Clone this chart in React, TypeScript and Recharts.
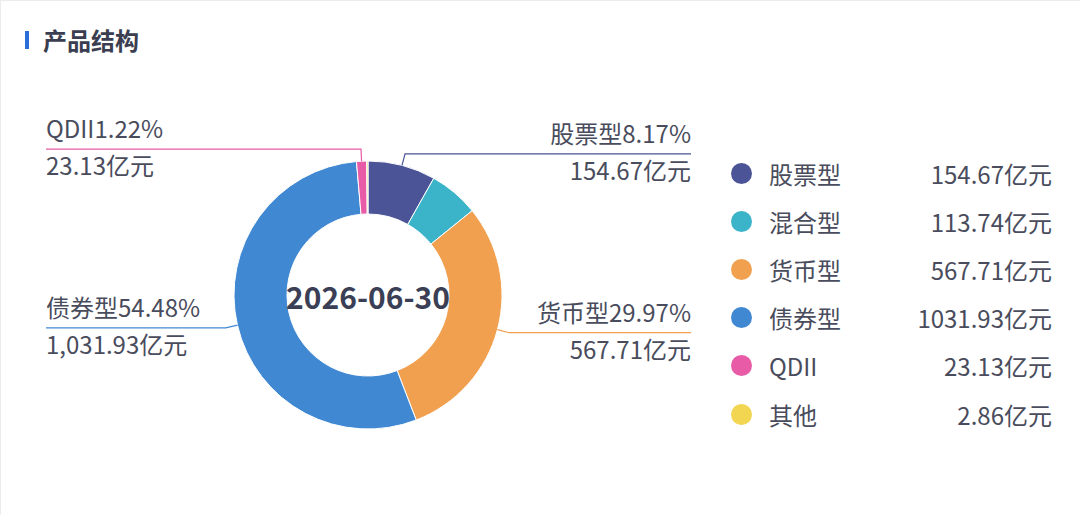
import { PieChart, Pie, Cell, Legend } from "recharts";

const NAMES = ["股票型", "混合型", "货币型", "债券型", "QDII", "其他"];
const AMOUNTS = [154.67, 113.74, 567.71, 1031.93, 23.13, 2.86];
const COLORS = ["#4a5496", "#3bb4c9", "#f0a04f", "#4188d3", "#e85ba6", "#f2d550"];
const HIDDEN_LABELS = ["混合型", "其他"];
const REPORT_DATE = "2026-06-30";

const FONT = '"Noto Sans CJK SC", "Noto Sans", sans-serif';
const TEXT = "#494c5c";
const LEFT_EDGE = 45;
const RIGHT_EDGE = 690;
const CX = 367;
const CY = 294;

const data = NAMES.map((name, i) => ({ name, value: AMOUNTS[i] }));

const RAD = Math.PI / 180;

function renderLabel(props: any) {
  const { cx, cy, midAngle, outerRadius, percent, name, value, index } = props;
  if (HIDDEN_LABELS.includes(name)) return null;
  const cos = Math.cos(-midAngle * RAD);
  const sin = Math.sin(-midAngle * RAD);
  const x0 = cx + outerRadius * cos;
  const y0 = cy + outerRadius * sin;
  const x1 = cx + (outerRadius + 12) * cos;
  const y1 = cy + (outerRadius + 12) * sin;
  const right = cos >= 0;
  const xEnd = right ? RIGHT_EDGE : LEFT_EDGE;
  const color = COLORS[index];
  const amount = value.toLocaleString("en-US", { minimumFractionDigits: 2, maximumFractionDigits: 2 });
  return (
    <g key={`label-${index}`}>
      <path d={`M${x0},${y0}L${x1},${y1}L${xEnd},${y1}`} stroke={color} strokeWidth={1.2} fill="none" />
      <text x={xEnd} y={y1 - 11} textAnchor={right ? "end" : "start"} fill={TEXT} fontSize={24} fontFamily={FONT}>
        {`${name}${(percent * 100).toFixed(2)}%`}
      </text>
      <text x={xEnd} y={y1 + 26} textAnchor={right ? "end" : "start"} fill={TEXT} fontSize={24} fontFamily={FONT}>
        {`${amount}亿元`}
      </text>
    </g>
  );
}

function renderLegend() {
  return (
    <div style={{ width: 321, fontFamily: FONT, color: TEXT, fontSize: 24 }}>
      {NAMES.map((name, i) => (
        <div key={name} style={{ display: "flex", alignItems: "center", height: 48.2 }}>
          <span
            style={{
              width: 21,
              height: 21,
              borderRadius: "50%",
              background: COLORS[i],
              display: "inline-block",
              marginRight: 17,
            }}
          />
          <span style={{ flex: 1 }}>{name}</span>
          <span>{`${AMOUNTS[i].toFixed(2)}亿元`}</span>
        </div>
      ))}
    </div>
  );
}

export default function App() {
  return (
    <div
      style={{
        position: "absolute",
        left: 0,
        top: 0,
        width: 1080,
        height: 515,
        background: "#fff",
        borderLeft: "1px solid #ececec",
        borderTop: "1px solid #ececec",
        boxSizing: "border-box",
        fontFamily: FONT,
      }}
    >
      <div
        style={{
          position: "absolute",
          left: 24,
          top: 21,
          display: "flex",
          alignItems: "center",
          fontSize: 24,
          fontWeight: 700,
          color: "#3a3e50",
        }}
      >
        <span style={{ width: 4, height: 18, background: "#2a6fd8", marginRight: 14 }} />
        产品结构
      </div>
      <div style={{ position: "absolute", left: 0, top: 0 }}>
        <PieChart width={1080} height={515} margin={{ top: 0, right: 0, bottom: 0, left: 0 }}>
          <Pie
            data={data}
            dataKey="value"
            nameKey="name"
            cx={CX}
            cy={CY}
            innerRadius={81}
            outerRadius={134}
            startAngle={90}
            endAngle={-270}
            stroke="#fff"
            strokeWidth={1}
            label={renderLabel}
            labelLine={false}
            isAnimationActive={false}
          >
            {data.map((d, i) => (
              <Cell key={d.name} fill={COLORS[i]} />
            ))}
          </Pie>
          <Legend
            layout="vertical"
            align="right"
            verticalAlign="top"
            content={renderLegend}
            wrapperStyle={{ left: 730, top: 148, width: 321 }}
          />
        </PieChart>
      </div>
      <div
        style={{
          position: "absolute",
          left: CX - 100,
          top: CY - 20 + 1,
          width: 200,
          height: 40,
          lineHeight: "40px",
          textAlign: "center",
          fontSize: 30,
          fontWeight: 700,
          color: "#3b3f55",
          pointerEvents: "none",
        }}
      >
        {REPORT_DATE}
      </div>
    </div>
  );
}
